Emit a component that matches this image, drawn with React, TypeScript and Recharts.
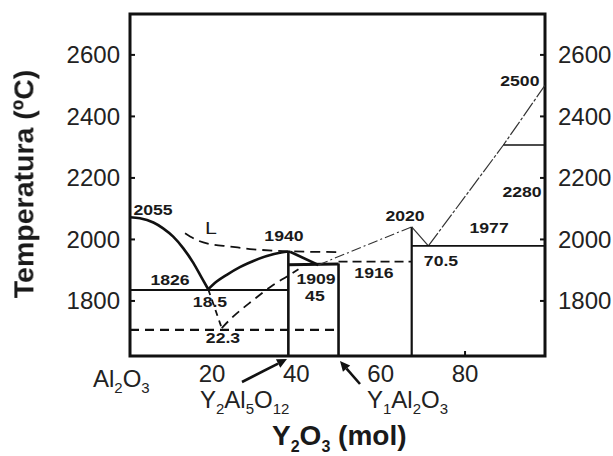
import React from "react";
import {
  ComposedChart,
  Line,
  XAxis,
  YAxis,
  Scatter,
  ReferenceArea,
} from "recharts";

// ---------- data (mol % Y2O3, temperature ºC) ----------
const X_MIN = 0.55;
const X_MAX = 98.96;
const Y_MIN = 1621;
const Y_MAX = 2733;

const xTicks = [20, 40, 60, 80];
const yTicks = [1800, 2000, 2200, 2400, 2600];

const liquidusAl2O3 = [
  { x: 0.55, y: 2072 }, { x: 2.9, y: 2069 }, { x: 6.1, y: 2055 }, { x: 8.4, y: 2036 },
  { x: 10.8, y: 2009 }, { x: 13.2, y: 1971 }, { x: 15.6, y: 1923 }, { x: 17.6, y: 1874 },
  { x: 19.1, y: 1838 },
];
const liquidusYAG = [
  { x: 19.1, y: 1838 }, { x: 21.1, y: 1863 }, { x: 23.5, y: 1885 }, { x: 26.6, y: 1910 },
  { x: 29.8, y: 1930 }, { x: 33.0, y: 1946 }, { x: 36.1, y: 1957 }, { x: 37.7, y: 1960 },
  { x: 38.5, y: 1960 },
];
const liquidusYAGtoYAP = [{ x: 38.5, y: 1960 }, { x: 45.2, y: 1917 }];
const solidus1826 = [{ x: 0.55, y: 1836 }, { x: 38.1, y: 1836 }];
const metastable1706 = [{ x: 0.55, y: 1706 }, { x: 50, y: 1706 }];
const metastableV = [{ x: 19.1, y: 1838 }, { x: 22.3, y: 1712 }];
const metastableLiquidus = [
  { x: 22.3, y: 1712 }, { x: 25.0, y: 1749 }, { x: 29.8, y: 1803 }, { x: 34.5, y: 1852 },
  { x: 37.7, y: 1879 }, { x: 40.5, y: 1903 },
];
const metastableL = [
  { x: 13.6, y: 2020 }, { x: 16.4, y: 1998 }, { x: 19.5, y: 1985 }, { x: 24.3, y: 1977 },
  { x: 29.8, y: 1968 }, { x: 35.3, y: 1963 }, { x: 42.5, y: 1960 }, { x: 50.5, y: 1959 },
];
const yagLine = [{ x: 38.1, y: 1960 }, { x: 38.1, y: Y_MIN }];
const yapTop = [{ x: 38.1, y: 1918 }, { x: 50, y: 1920 }];
const yapLine = [{ x: 50, y: 1922 }, { x: 50, y: Y_MIN }];
const liquidusYAPtoY4 = [{ x: 45.2, y: 1917 }, { x: 56, y: 1978 }, { x: 67.35, y: 2041 }];
const metastable1916 = [{ x: 50, y: 1928 }, { x: 67.35, y: 1928 }];
const y4Line = [{ x: 67.35, y: 2041 }, { x: 67.35, y: Y_MIN }];
const liquidusY4right = [{ x: 67.35, y: 2041 }, { x: 71.3, y: 1979 }];
const liquidusY2O3 = [{ x: 71.3, y: 1979 }, { x: 89.1, y: 2307 }, { x: 98.9, y: 2500 }];
const solidus1977 = [{ x: 67.35, y: 1979 }, { x: X_MAX, y: 1979 }];
const transition2280 = [{ x: 89.1, y: 2307 }, { x: X_MAX, y: 2307 }];

const annotations = [
  { x: 6.0, y: 2096, text: "2055" },
  { x: 19.75, y: 2037, text: "L" },
  { x: 37.06, y: 2011, text: "1940" },
  { x: 10.03, y: 1868, text: "1826" },
  { x: 19.52, y: 1797, text: "18.5" },
  { x: 22.6, y: 1680, text: "22.3" },
  { x: 44.65, y: 1871, text: "1909" },
  { x: 44.4, y: 1817, text: "45" },
  { x: 58.4, y: 1891, text: "1916" },
  { x: 65.76, y: 2076, text: "2020" },
  { x: 74.3, y: 1930, text: "70.5" },
  { x: 85.7, y: 2037, text: "1977" },
  { x: 93.5, y: 2154, text: "2280" },
  { x: 93.0, y: 2515, text: "2500" },
];

// ---------- series table (styles built around the data arrays) ----------
const series = [
  { key: "liqA", data: liquidusAl2O3, w: 2.6, dash: undefined, curve: "monotone", c: "#111" },
  { key: "liqYAG", data: liquidusYAG, w: 2.6, dash: undefined, curve: "monotone", c: "#111" },
  { key: "liqYAGYAP", data: liquidusYAGtoYAP, w: 2.6, dash: undefined, curve: "linear", c: "#111" },
  { key: "s1826", data: solidus1826, w: 2, dash: undefined, curve: "linear", c: "#111" },
  { key: "m1706", data: metastable1706, w: 2.2, dash: "9 6", curve: "linear", c: "#111" },
  { key: "mV", data: metastableV, w: 1.8, dash: "6 5", curve: "linear", c: "#111" },
  { key: "mLiq", data: metastableLiquidus, w: 1.8, dash: "9 6", curve: "monotone", c: "#111" },
  { key: "mL", data: metastableL, w: 1.8, dash: "10 6", curve: "monotone", c: "#111" },
  { key: "yag", data: yagLine, w: 2.6, dash: undefined, curve: "linear", c: "#111" },
  { key: "yapTop", data: yapTop, w: 3, dash: undefined, curve: "linear", c: "#111" },
  { key: "yap", data: yapLine, w: 2.6, dash: undefined, curve: "linear", c: "#111" },
  { key: "liqY4", data: liquidusYAPtoY4, w: 1.1, dash: "10 3 2 3", curve: "linear", c: "#333" },
  { key: "m1916", data: metastable1916, w: 1.6, dash: "9 5", curve: "linear", c: "#111" },
  { key: "y4", data: y4Line, w: 2.2, dash: undefined, curve: "linear", c: "#111" },
  { key: "liqY4r", data: liquidusY4right, w: 1.2, dash: undefined, curve: "linear", c: "#333" },
  { key: "liqY2O3", data: liquidusY2O3, w: 1.2, dash: "16 2 3 2", curve: "linear", c: "#333" },
  { key: "s1977", data: solidus1977, w: 1.6, dash: undefined, curve: "linear", c: "#111" },
  { key: "t2280", data: transition2280, w: 1.6, dash: undefined, curve: "linear", c: "#111" },
];

const FONT = '"Liberation Sans", Arial, Helvetica, sans-serif';
const INK = "#111";

const LeftTick = (props: any) => {
  const { x, y, payload } = props;
  const ax = x + 10;
  return (
    <g>
      <line x1={ax} x2={ax + 5} y1={y} y2={y} stroke={INK} strokeWidth={2} />
      <text x={x} y={y + 8.5} textAnchor="end" fontSize={24} fill="#222" fontFamily={FONT}>
        {payload.value}
      </text>
    </g>
  );
};

const RightTick = (props: any) => {
  const { x, y, payload } = props;
  const ax = x - 13;
  return (
    <g>
      <line x1={ax} x2={ax - 5} y1={y} y2={y} stroke={INK} strokeWidth={2} />
      <text x={x} y={y + 8.5} textAnchor="start" fontSize={24} fill="#222" fontFamily={FONT}>
        {payload.value}
      </text>
    </g>
  );
};

const BottomTick = (props: any) => {
  const { x, y, payload } = props;
  const ay = y - 9;
  return (
    <g>
      {payload.value === 80 && (
        <line x1={x} x2={x} y1={ay} y2={ay - 5} stroke={INK} strokeWidth={2} />
      )}
      <text x={x} y={y + 17} textAnchor="middle" fontSize={24} fill="#222" fontFamily={FONT}>
        {payload.value}
      </text>
    </g>
  );
};

const LabelShape = (props: any) => {
  const { cx, cy, payload } = props;
  if (cx == null || cy == null) return <g />;
  const isL = payload.text === "L";
  return (
    <text
      transform={`translate(${cx},${cy}) scale(1.26,1)`}
      textAnchor="middle"
      dominantBaseline="central"
      fontSize={isL ? 17 : 14}
      fontWeight={isL ? "normal" : "bold"}
      fill="#1a1a1a"
      fontFamily={FONT}
    >
      {payload.text}
    </text>
  );
};

function Arrow({ x1, y1, x2, y2 }: { x1: number; y1: number; x2: number; y2: number }) {
  const dx = x2 - x1;
  const dy = y2 - y1;
  const len = Math.sqrt(dx * dx + dy * dy);
  const ux = dx / len;
  const uy = dy / len;
  const hl = 10;
  const hw = 4.8;
  const bx = x2 - ux * hl;
  const by = y2 - uy * hl;
  const px = -uy;
  const py = ux;
  return (
    <g>
      <line x1={x1} y1={y1} x2={bx} y2={by} stroke={INK} strokeWidth={2.6} />
      <polygon
        points={`${x2},${y2} ${bx + px * hw},${by + py * hw} ${bx - px * hw},${by - py * hw}`}
        fill={INK}
      />
    </g>
  );
}

const sub = { fontSize: 15 };

export default function App() {
  return (
    <div style={{ position: "fixed", left: 8, top: 8, width: 605, height: 448, background: "#fff" }}>
      <ComposedChart
        width={605}
        height={448}
        margin={{ top: 6, right: 0, bottom: 0, left: 62 }}
      >
        <XAxis
          xAxisId="b"
          dataKey="x"
          type="number"
          domain={[X_MIN, X_MAX]}
          allowDataOverflow
          ticks={xTicks}
          height={100}
          axisLine={false}
          tickLine={false}
          tickSize={0}
          tickMargin={9}
          tick={<BottomTick />}
          interval={0}
        />
        <YAxis
          yAxisId="l"
          dataKey="y"
          type="number"
          orientation="left"
          domain={[Y_MIN, Y_MAX]}
          allowDataOverflow
          ticks={yTicks}
          width={60}
          axisLine={false}
          tickLine={false}
          tickSize={0}
          tickMargin={10}
          tick={<LeftTick />}
          interval={0}
        />
        <YAxis
          yAxisId="r"
          type="number"
          orientation="right"
          domain={[Y_MIN, Y_MAX]}
          allowDataOverflow
          ticks={yTicks}
          width={68}
          axisLine={false}
          tickLine={false}
          tickSize={0}
          tickMargin={13}
          tick={<RightTick />}
          interval={0}
        />
        <ReferenceArea
          xAxisId="b"
          yAxisId="l"
          x1={X_MIN}
          x2={X_MAX}
          y1={Y_MIN}
          y2={Y_MAX}
          fill="none"
          fillOpacity={0}
          stroke={INK}
          strokeWidth={3}
          ifOverflow="visible"
        />
        {series.map((s) => (
          <Line
            key={s.key}
            xAxisId="b"
            yAxisId="l"
            data={s.data}
            dataKey="y"
            type={s.curve as any}
            stroke={s.c}
            strokeWidth={s.w}
            strokeDasharray={s.dash}
            dot={false}
            activeDot={false}
            isAnimationActive={false}
            legendType="none"
          />
        ))}
        <Scatter
          xAxisId="b"
          yAxisId="l"
          data={annotations}
          dataKey="y"
          shape={<LabelShape />}
          isAnimationActive={false}
        />
      </ComposedChart>
      <svg
        width={605}
        height={448}
        style={{ position: "absolute", left: 0, top: 0, pointerEvents: "none", overflow: "visible" }}
        fontFamily={FONT}
      >
        <text
          transform="translate(25.4,176) rotate(-90)"
          textAnchor="middle"
          fontSize={28.5}
          fontWeight="bold"
          fill="#1a1a1a"
        >
          Temperatura (ºC)
        </text>
        <text x={85} y={379} fontSize={24} fill="#222">
          Al<tspan dy={6} {...sub}>2</tspan><tspan dy={-6}>O</tspan><tspan dy={6} {...sub}>3</tspan>
        </text>
        <text x={192} y={400} fontSize={24} fill="#222">
          Y<tspan dy={6} {...sub}>2</tspan><tspan dy={-6}>Al</tspan><tspan dy={6} {...sub}>5</tspan>
          <tspan dy={-6}>O</tspan><tspan dy={6} {...sub}>12</tspan>
        </text>
        <text x={359} y={400} fontSize={24} fill="#222">
          Y<tspan dy={6} {...sub}>1</tspan><tspan dy={-6}>Al</tspan><tspan dy={6} {...sub}>2</tspan>
          <tspan dy={-6}>O</tspan><tspan dy={6} {...sub}>3</tspan>
        </text>
        <text x={264} y={437} fontSize={28} fontWeight="bold" fill="#1a1a1a">
          Y<tspan dy={7} fontSize={16}>2</tspan><tspan dy={-7}>O</tspan><tspan dy={7} fontSize={16}>3</tspan>
          <tspan dy={-7}> (mol)</tspan>
        </text>
        <Arrow x1={234} y1={374} x2={279} y2={351} />
        <Arrow x1={352} y1={376} x2={332} y2={353} />
      </svg>
    </div>
  );
}
